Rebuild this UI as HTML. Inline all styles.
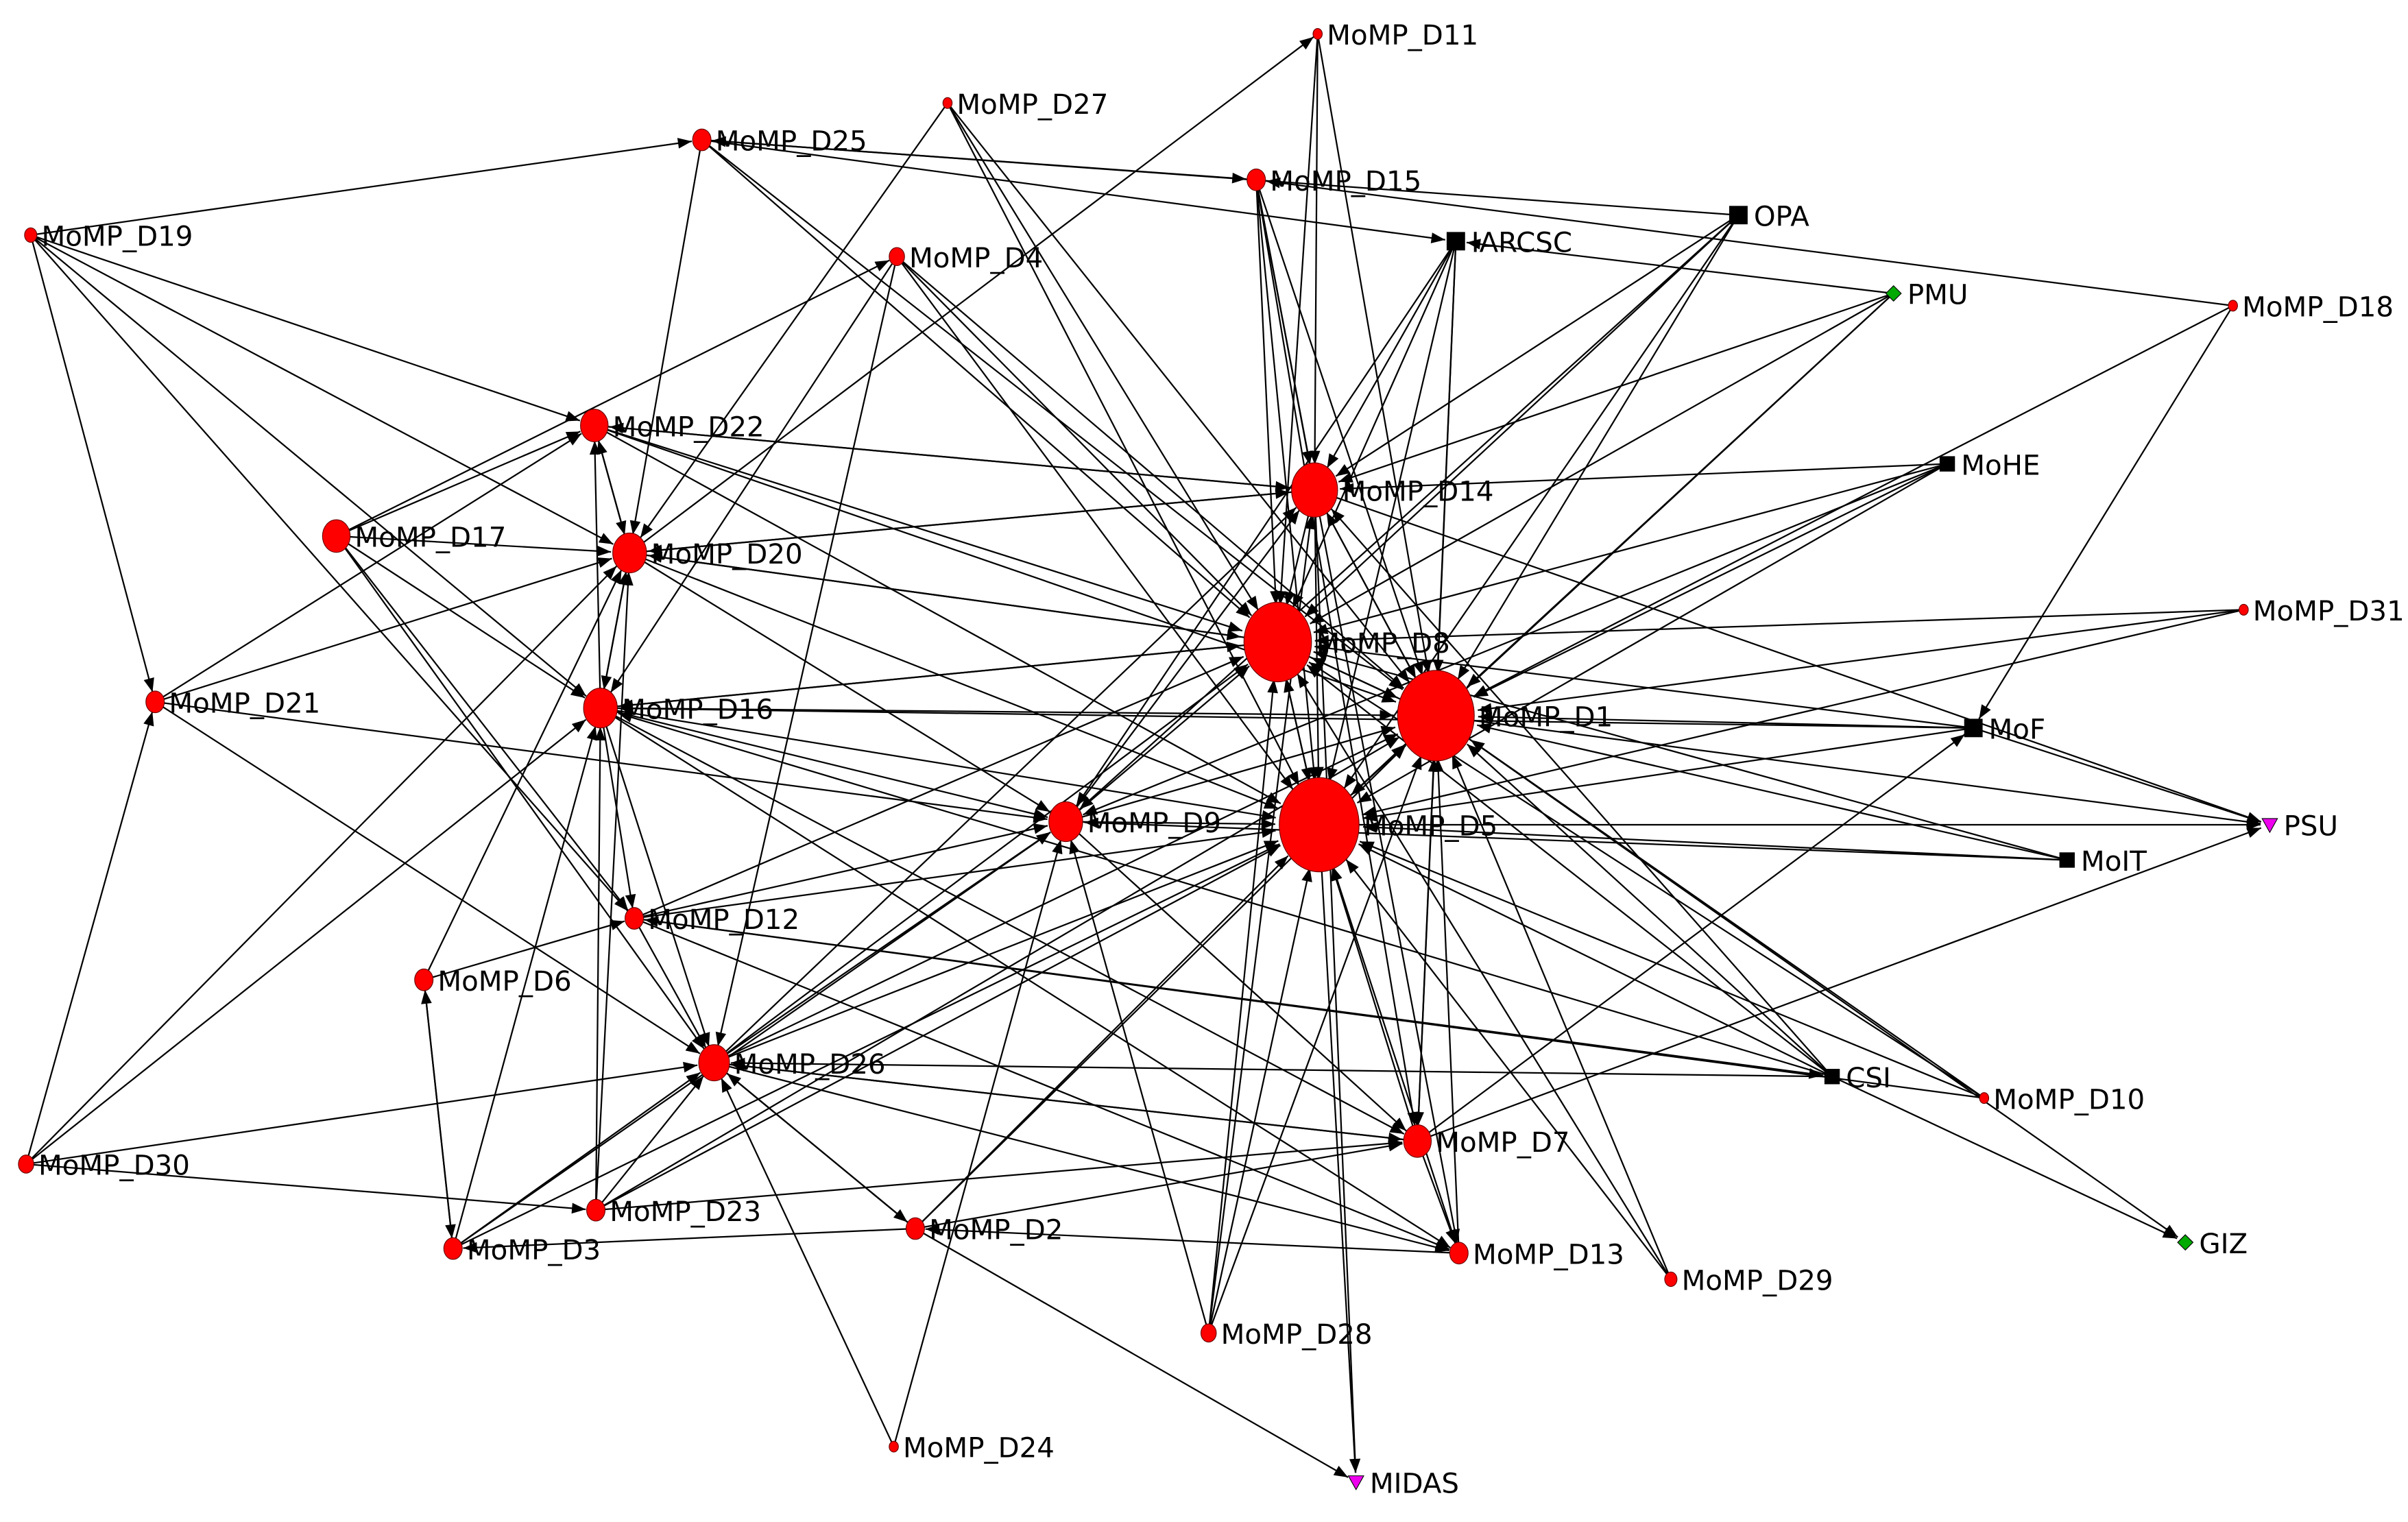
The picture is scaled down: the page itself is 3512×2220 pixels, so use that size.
<!DOCTYPE html>
<html><head><meta charset="utf-8"><style>
html,body{margin:0;padding:0;background:#fff;}
svg{display:block;}
text{font-family:"DejaVu Sans","Liberation Sans",sans-serif;font-size:18px;fill:#000;}
</style></head><body>
<svg id="s" width="3512" height="2220" viewBox="0 0 1568 991" xmlns="http://www.w3.org/2000/svg">
<rect width="1568" height="991" fill="#fff"/>
<g id="edges" stroke="#000" stroke-width="1" fill="none"></g>
<g id="arrows" fill="#000"></g>
<g id="nodes"></g>
<g id="labels"></g>
</svg>
<script>
var N={
D11:[858,22,3,'c'],D27:[617,67,3,'c'],D25:[457,91,6,'c'],D15:[818,117,6,'c'],
OPA:[1132,140,6,'s'],IARCSC:[948,157,6,'s'],D19:[20,153,4,'c'],D4:[584,167,5,'c'],
PMU:[1233,191,5,'g'],D18:[1454,199,3,'c'],D22:[387,277,9,'c'],MoHE:[1268,302,5,'s'],
D14:[856,319,15,'c'],D17:[219,349,9,'c'],D20:[410,360,11,'c'],D8:[832,418,22,'c'],
D31:[1461,397,3,'c'],D1:[935,466,25,'c'],D21:[101,457,6,'c'],D16:[391,461,11,'c'],
MoF:[1285,474,6,'s'],D5:[859,537,26,'c'],D9:[694,535,11,'c'],PSU:[1478,537,5,'t'],
MoIT:[1346,560,5,'s'],D12:[413,598,6,'c'],D6:[276,638,6,'c'],D26:[465,692,10,'c'],
CSI:[1193,701,5,'s'],D10:[1292,715,3,'c'],D7:[923,743,9,'c'],D30:[17,758,5,'c'],
D23:[388,788,6,'c'],D3:[295,813,6,'c'],D2:[596,800,6,'c'],D13:[950,816,6,'c'],
D29:[1088,833,4,'c'],GIZ:[1423,809,5,'g'],D28:[787,868,5,'c'],D24:[582,942,3,'c'],
MIDAS:[883,965,5,'t']};
var E="D19>D25 D19>D21 D19>D22 D19>D16 D19>D20 D19>D12 D25>D15 D25>D20 D25>D8 D25>D1 D25>IARCSC D27>D8 D27>D5 D27>D20 D27>D1 D15>D14 D15>D8 D15>D5 D15>D1 D15>D7 D15>D13 D11>D14 D11>D8 D11>D1 D17>D4 D20>D11 D4>D5 D4>D8 D4>D1 D4>D26 D4>D16 IARCSC>D14 IARCSC>D8 IARCSC>D5 IARCSC>D9 IARCSC>D1 IARCSC>D7 OPA>D14 OPA>D8 OPA>D1 OPA>D5 OPA>D25 OPA>D9 PMU>D14 PMU>D8 PMU>D1 PMU>D5 PMU>IARCSC D18>D15 D18>MoF D18>D1 MoHE>D14 MoHE>D1 MoHE>D5 MoHE>D8 MoHE>D9 D31>D1 D31>D5 D31>D8 MoF>D1 MoF>D5 MoF>D8 MoF>D16 D1>PSU D5>PSU MoF>PSU D7>PSU D14>PSU MoIT>D1 MoIT>D5 MoIT>D8 MoIT>D9 CSI>D1 CSI>D5 CSI>D8 CSI>D26 CSI>D16 CSI>D14 D10>D1 D10>D5 D10>D8 D10>D12 CSI>GIZ D1>GIZ D7>D5 D7>D1 D7>D26 D7>D13 D7>MoF D13>D5 D13>D1 D13>D2 D29>D5 D29>D1 D29>D8 D28>D5 D28>D9 D28>D8 D28>D1 D24>D26 D24>D9 D2>MIDAS D5>MIDAS D14>MIDAS D2>D5 D2>D26 D2>D1 D2>D3 D3>D6 D3>D26 D3>D16 D3>D5 D3>D9 D23>D26 D23>D5 D23>D16 D23>D20 D23>D7 D30>D21 D30>D26 D30>D23 D30>D20 D30>D16 D6>D3 D6>D20 D6>D12 D12>D5 D12>D9 D12>D8 D12>D26 D12>CSI D26>D5 D26>D9 D26>D1 D26>D8 D26>D2 D26>D7 D26>D13 D9>D5 D9>D1 D9>D8 D9>D14 D16>D5 D16>D1 D16>D8 D16>D22 D16>D20 D16>D12 D16>D26 D16>D9 D16>D13 D20>D5 D20>D8 D20>D14 D20>D22 D20>D16 D22>D14 D22>D8 D22>D5 D22>D20 D17>D22 D17>D20 D17>D16 D17>D12 D17>D26 D21>D9 D21>D26 D21>D20 D21>D22 D14>D8 D14>D5 D14>D1 D14>D20 D14>D22 D8>D5 D8>D1 D8>D20 D8>D16 D1>D5 D1>D8 D1>D14 D5>D1 D5>D8 D16>D7 D20>D9 D22>D1 D12>D13 D26>D14 D9>D7 D28>D14 D23>D1 D2>D7";
var NS="http://www.w3.org/2000/svg";
function el(t,a,p){var e=document.createElementNS(NS,t);for(var k in a)e.setAttribute(k,a[k]);document.getElementById(p).appendChild(e);return e;}
E.split(" ").forEach(function(s){var p=s.split(">"),a=N[p[0]],b=N[p[1]];if(!a||!b)return;
var dx=b[0]-a[0],dy=b[1]-a[1],L=Math.sqrt(dx*dx+dy*dy),ux=dx/L,uy=dy/L;
var r=b[3]=='c'?b[2]*1.1:b[2]+1;var ex=b[0]-ux*r,ey=b[1]-uy*r;
el('line',{x1:a[0],y1:a[1],x2:ex,y2:ey},'edges');
var al=9,aw=3.5,bx=ex-ux*al,by=ey-uy*al;
el('polygon',{points:ex+','+ey+' '+(bx-uy*aw)+','+(by+ux*aw)+' '+(bx+uy*aw)+','+(by-ux*aw)},'arrows');});
for(var k in N){var n=N[k],x=n[0],y=n[1],r=n[2];
if(n[3]=='c')el('ellipse',{cx:x,cy:y,rx:r,ry:r*1.18,fill:'#f00',stroke:'#600','stroke-width':0.5},'nodes');
else if(n[3]=='s')el('rect',{x:x-r,y:y-r,width:2*r,height:2*r,fill:'#000'},'nodes');
else if(n[3]=='g')el('polygon',{points:x+','+(y-r)+' '+(x+r)+','+y+' '+x+','+(y+r)+' '+(x-r)+','+y,fill:'#0a0',stroke:'#000','stroke-width':0.5},'nodes');
else el('polygon',{points:(x-r)+','+(y-r+1)+' '+(x+r)+','+(y-r+1)+' '+x+','+(y+r),fill:'#e0e',stroke:'#000','stroke-width':0.5},'nodes');
var name=k.charAt(0)=='D'?'MoMP_'+k:k;var off=n[3]=='c'?r*1.0+3:r+4;
var t=el('text',{x:x+off,y:y+7},'labels');t.textContent=name;}
</script>
</body></html>
